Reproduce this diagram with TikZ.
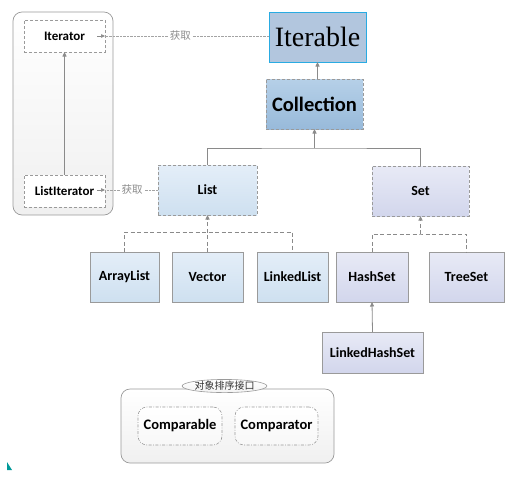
\documentclass[tikz,border=0pt]{standalone}
\usepackage{fontspec}
\setmainfont{Carlito}
\newfontfamily\cjk{Noto Sans CJK SC}
\newfontfamily\iterfont{Liberation Serif}
\usetikzlibrary{arrows.meta,shapes.geometric}
\definecolor{bordergray}{HTML}{9A9A9A}
\definecolor{linegray}{HTML}{8A8A8A}
\definecolor{labelgray}{HTML}{8C8C8C}
\definecolor{bluetop}{RGB}{228,238,248}
\definecolor{bluebot}{RGB}{206,224,240}
\definecolor{lavtop}{RGB}{232,234,246}
\definecolor{lavbot}{RGB}{210,214,236}
\begin{document}
\begin{tikzpicture}[x=1pt,y=-1pt,
  every node/.style={inner sep=0pt,outer sep=0pt,font=\bfseries\fontsize{14}{16}\selectfont},
  container/.style={draw=bordergray,line width=0.7pt,rounded corners=9pt,top color=white,bottom color=gray!12},
  plainbox/.style={draw=bordergray,dashed,line width=0.7pt,fill=white,dash pattern=on 3pt off 2pt},
  bluebox/.style={draw=bordergray,line width=0.7pt,top color=bluetop,bottom color=bluebot},
  lavbox/.style={draw=bordergray,line width=0.7pt,top color=lavtop,bottom color=lavbot},
  dbox/.style={dashed,dash pattern=on 3pt off 2pt},
  arr/.style={-{Triangle[length=4.5pt,width=4pt]},draw=linegray,line width=0.8pt},
  conn/.style={draw=linegray,line width=0.8pt},
  dconn/.style={draw=linegray,line width=1pt,dash pattern=on 4pt off 2.5pt},
  dotconn/.style={draw=labelgray!80,line width=0.8pt,dash pattern=on 0.8pt off 0.6pt},
  getlabel/.style={fill=white,inner xsep=1pt,font=\cjk\fontsize{10.5}{12}\selectfont,text=labelgray},
  cmpbox/.style={draw=bordergray,line width=0.6pt,rounded corners=9pt,dash pattern=on 3pt off 1.5pt on 0.8pt off 1.5pt,top color=white,bottom color=gray!6,minimum width=84pt,minimum height=38pt,font=\bfseries\fontsize{14.5}{16}\selectfont}
]
\useasboundingbox (0,0) rectangle (513,483);

% left container
\node[container,minimum width=100pt,minimum height=203pt] (leftbox) at (63,113.5) {};
\node[plainbox,minimum width=81pt,minimum height=32pt,font=\bfseries\fontsize{13}{15}\selectfont] (iter) at (64.5,36) {Iterator};
\node[plainbox,minimum width=81pt,minimum height=32pt,font=\bfseries\fontsize{13}{15}\selectfont] (liter) at (64.5,191) {ListIterator};

% top
\node[draw={rgb,255:red,41;green,171;blue,226},line width=1pt,fill={rgb,255:red,178;green,198;blue,222},minimum width=97pt,minimum height=50pt,font=\iterfont\fontsize{28}{30}\selectfont] (iterable) at (317.5,37) {Iterable};
\node[draw=bordergray,dbox,line width=0.7pt,top color={rgb,255:red,182;green,208;blue,232},bottom color={rgb,255:red,152;green,186;blue,218},minimum width=97pt,minimum height=50pt,font=\bfseries\fontsize{20.5}{22}\selectfont] (coll) at (314.5,104) {Collection};

% second row
\node[bluebox,dbox,minimum width=99pt,minimum height=50pt] (list) at (207.5,190) {List};
\node[lavbox,dbox,minimum width=97pt,minimum height=50pt] (set) at (420.5,191) {Set};

% third row
\node[bluebox,minimum width=69pt,minimum height=50pt] (arraylist) at (124.5,277) {ArrayList};
\node[bluebox,minimum width=71pt,minimum height=50pt] (vector) at (207.5,277) {Vector};
\node[bluebox,minimum width=71pt,minimum height=50pt] (linkedlist) at (292.5,277) {LinkedList};
\node[lavbox,minimum width=72pt,minimum height=50pt] (hashset) at (372,277) {HashSet};
\node[lavbox,minimum width=75pt,minimum height=50pt] (treeset) at (466.5,277) {TreeSet};
\node[lavbox,minimum width=101pt,minimum height=41pt] (lhs) at (372.5,352.5) {LinkedHashSet};

% bottom container
\node[container,minimum width=213pt,minimum height=74pt] (cmpgroup) at (227.5,426) {};
\node[draw=bordergray,line width=0.6pt,ellipse,top color=white,bottom color=gray!10,minimum width=83pt,minimum height=13pt,font=\cjk\fontsize{10}{11}\selectfont,text=black!80] (cmplabel) at (224.5,386) {对象排序接口};
\node[cmpbox] (comparable) at (180,426) {Comparable};
\node[cmpbox,minimum width=83pt] (comparator) at (276.5,426) {Comparator};

% connectors
\draw[arr] (liter.north) -- (iter.south);
\draw[dotconn] (iterable.west |- iter.east) -- node[getlabel,pos=0.54] (get1) {获取} (iter.east);
\draw[-{Triangle[length=4pt,width=3.5pt]},draw=linegray,line width=0.6pt] ([xshift=-8pt]iter.east) -- (iter.east);
\draw[dotconn] (list.west) -- node[getlabel,pos=0.49] (get2) {获取} (list.west -| liter.east);
\draw[-{Triangle[length=4pt,width=3.5pt]},draw=linegray,line width=0.6pt] ([xshift=-8pt]list.west -| liter.east) -- (list.west -| liter.east);

\draw[arr] (iterable.south |- coll.north) -- (iterable.south);
\coordinate (j1) at (314.5,148);
\draw[conn] (list.north) |- (j1) -| (set.north);
\draw[arr] (j1) -- (coll.south);

\coordinate (j2) at (207.5,232);
\draw[dconn] (arraylist.north) |- (j2) -| (linkedlist.north);
\draw[dconn,-{Triangle[length=4.5pt,width=4pt]}] (vector.north) -- (list.south);

\coordinate (j3) at (420.5,234);
\draw[dconn] (hashset.north) |- (j3) -| (treeset.north);
\draw[dconn,-{Triangle[length=4.5pt,width=4pt]}] (j3) -- (set.south);

\draw[arr] (lhs.north) -- (hashset.south);

% small mark
\fill[teal!80!cyan] (7,462) -- (7,470) -- (12,470) -- cycle;
\end{tikzpicture}
\end{document}
